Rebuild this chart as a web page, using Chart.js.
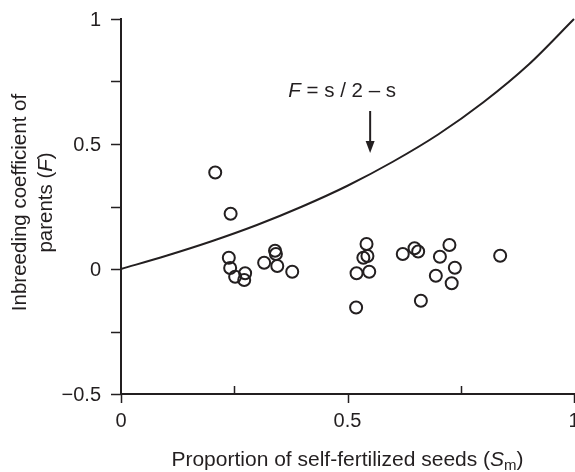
<!DOCTYPE html>
<html>
<head>
<meta charset="utf-8">
<script src="https://cdn.jsdelivr.net/npm/chart.js@4"></script>
<style>
  html, body { margin: 0; padding: 0; background: #fff; overflow: hidden; }
  #chart { display: block; }
</style>
</head>
<body>
<canvas id="chart" width="575" height="472"></canvas>
<script>
  // observed parents: proportion of self-fertilized seeds vs inbreeding coefficient
  const selfFert = [
    0.208, 0.242, 0.238, 0.241, 0.252, 0.274, 0.272, 0.316, 0.340, 0.342,
    0.345, 0.378, 0.542, 0.535, 0.544, 0.520, 0.548, 0.519, 0.622, 0.648,
    0.656, 0.662, 0.725, 0.704, 0.737, 0.695, 0.730, 0.837
  ];
  const inbreeding = [
    0.386, 0.221, 0.045, 0.004, -0.031, -0.017, -0.044, 0.025, 0.073, 0.060,
    0.012, -0.011, 0.100, 0.045, 0.052, -0.017, -0.011, -0.154, 0.060, 0.083,
    0.070, -0.127, 0.096, 0.049, 0.005, -0.027, -0.057, 0.053
  ];

  // expected curve F = s / (2 - s), read at s = 0, 0.1 ... 1
  const curveS = [0, 0.1, 0.2, 0.3, 0.4, 0.5, 0.6, 0.7, 0.8, 0.9, 1];
  const curveF = [0, 0.053, 0.111, 0.176, 0.25, 0.333, 0.429, 0.538, 0.667, 0.818, 1];

  // axis ticks
  const xMajor = [0, 0.5, 1];
  const xMajorLabels = ["0", "0.5", "1"];
  const xMinor = [0.25, 0.75];
  const yMajor = [-0.5, 0, 0.5, 1];
  const yMajorLabels = ["\u22120.5", "0", "0.5", "1"];
  const yMinor = [-0.25, 0.25, 0.75];

  const INK = "#231f20";
  const FONT = "'Liberation Sans', Arial, Helvetica, sans-serif";

  // draws a run of [text, style] pieces; style: "n" normal, "i" italic, "sub" subscript
  function drawPieces(ctx, pieces, x, y, size, align) {
    const fontFor = (st) => {
      if (st === "i") return "italic " + size + "px " + FONT;
      if (st === "sub") return Math.round(size * 0.72) + "px " + FONT;
      return size + "px " + FONT;
    };
    let total = 0;
    pieces.forEach(([t, st]) => { ctx.font = fontFor(st); total += ctx.measureText(t).width; });
    let cx = align === "center" ? x - total / 2 : x;
    ctx.textAlign = "left";
    pieces.forEach(([t, st]) => {
      ctx.font = fontFor(st);
      ctx.fillText(t, cx, st === "sub" ? y + size * 0.28 : y);
      cx += ctx.measureText(t).width;
    });
  }

  const axesPlugin = {
    id: "axesPlugin",
    afterDatasetsDraw(chart) {
      const ctx = chart.ctx;
      const xs = chart.scales.x, ys = chart.scales.y;
      const area = chart.chartArea;
      const x0 = xs.getPixelForValue(0);
      const yBot = ys.getPixelForValue(-0.5);
      ctx.save();
      ctx.strokeStyle = INK;
      ctx.fillStyle = INK;
      ctx.lineWidth = 2;
      ctx.lineCap = "butt";

      // axis lines
      ctx.beginPath();
      ctx.moveTo(x0, ys.getPixelForValue(1) - 1);
      ctx.lineTo(x0, yBot + 1);
      ctx.moveTo(x0 - 1, yBot);
      ctx.lineTo(area.right + 2, yBot);
      ctx.stroke();

      // y ticks (outward)
      ctx.lineWidth = 1.5;
      ctx.beginPath();
      yMajor.concat(yMinor).forEach((v) => {
        const p = Math.round(ys.getPixelForValue(v)) + 0.5;
        ctx.moveTo(x0 - 10, p);
        ctx.lineTo(x0, p);
      });
      // x ticks: major downward, minor upward
      xMajor.forEach((v) => {
        const p = Math.round(xs.getPixelForValue(v)) + 0.5;
        ctx.moveTo(p, yBot);
        ctx.lineTo(p, yBot + 9);
      });
      xMinor.forEach((v) => {
        const p = Math.round(xs.getPixelForValue(v)) + 0.5;
        ctx.moveTo(p, yBot);
        ctx.lineTo(p, yBot - 8);
      });
      ctx.stroke();

      // tick labels
      ctx.font = "20px " + FONT;
      ctx.textBaseline = "middle";
      ctx.textAlign = "right";
      yMajor.forEach((v, i) => {
        ctx.fillText(yMajorLabels[i], x0 - 20, ys.getPixelForValue(v) + 1);
      });
      ctx.textAlign = "center";
      xMajor.forEach((v, i) => {
        ctx.fillText(xMajorLabels[i], xs.getPixelForValue(v), yBot + 27);
      });

      // x title
      drawPieces(ctx, [
        ["Proportion of self-fertilized seeds (", "n"],
        ["S", "i"], ["m", "sub"], [")", "n"]
      ], xs.getPixelForValue(0.5), yBot + 66, 21, "center");

      // y title (rotated, two lines)
      const yMid = (area.top + area.bottom) / 2 - 4;
      ctx.save();
      ctx.translate(20, yMid);
      ctx.rotate(-Math.PI / 2);
      drawPieces(ctx, [["Inbreeding coefficient of", "n"]], 0, 0, 20.5, "center");
      ctx.restore();
      ctx.save();
      ctx.translate(46, yMid);
      ctx.rotate(-Math.PI / 2);
      drawPieces(ctx, [["parents (", "n"], ["F", "i"], [")", "n"]], 0, 0, 20.5, "center");
      ctx.restore();

      // curve annotation with arrow
      const ax = xs.getPixelForValue(0.55);
      drawPieces(ctx, [["F", "i"], [" = s / 2 \u2013 s", "n"]], ax - 28, 91, 20.5, "center");
      ctx.lineWidth = 2;
      ctx.beginPath();
      ctx.moveTo(ax, 111);
      ctx.lineTo(ax, 148);
      ctx.stroke();
      ctx.beginPath();
      ctx.moveTo(ax - 4.5, 141);
      ctx.lineTo(ax, 153);
      ctx.lineTo(ax + 4.5, 141);
      ctx.closePath();
      ctx.fill();

      ctx.restore();
    }
  };

  new Chart(document.getElementById("chart"), {
    type: "scatter",
    data: {
      datasets: [
        {
          type: "line",
          label: "F = s / 2 - s",
          data: curveS.map((s, i) => ({ x: s, y: curveF[i] })),
          borderColor: INK,
          borderWidth: 2,
          pointRadius: 0,
          cubicInterpolationMode: "monotone",
          fill: false,
          clip: false,
        },
        {
          label: "parents",
          data: selfFert.map((s, i) => ({ x: s, y: inbreeding[i] })),
          backgroundColor: "rgba(255,255,255,0)",
          borderColor: INK,
          borderWidth: 2,
          pointRadius: 6,
          pointStyle: "circle",
          clip: false,
        },
      ],
    },
    options: {
      responsive: false,
      animation: false,
      devicePixelRatio: 1,
      layout: {
        autoPadding: false,
        padding: { left: 121, right: 1, top: 19, bottom: 78 },
      },
      plugins: { legend: { display: false }, tooltip: { enabled: false } },
      scales: {
        x: { type: "linear", min: 0, max: 1, display: false },
        y: { type: "linear", min: -0.5, max: 1, display: false },
      },
    },
    plugins: [axesPlugin],
  });
</script>
</body>
</html>
